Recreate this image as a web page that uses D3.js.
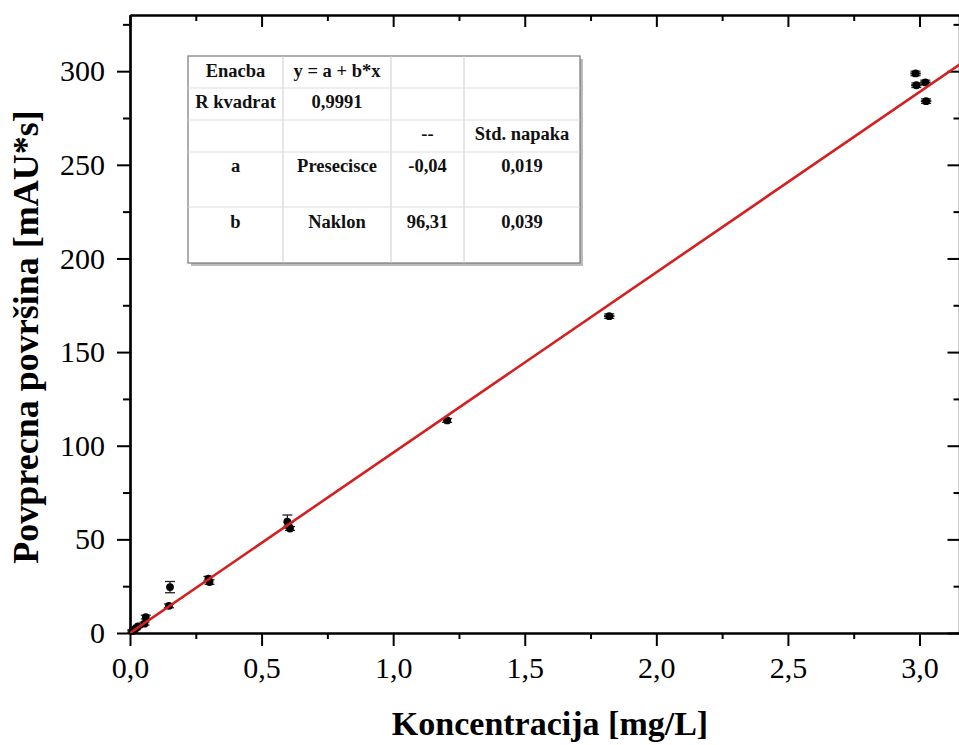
<!DOCTYPE html>
<html>
<head>
<meta charset="utf-8">
<script src="https://cdn.jsdelivr.net/npm/d3@7"></script>
<style>
  html, body { margin: 0; padding: 0; background: #fff; }
  svg { display: block; }
</style>
</head>
<body>
<svg id="chart" width="959" height="745"></svg>
<script>
// Calibration measurements: concentration vs. mean peak area
const concentration = [0.008, 0.02, 0.03, 0.055, 0.06, 0.148, 0.152, 0.298, 0.302, 0.598, 0.602, 0.608, 1.205, 1.821, 2.985, 2.988, 3.022, 3.025];
const meanArea      = [1.0,   2.2,  3.5,  5.0,   8.5,  14.5,  24.5,  29.0,  27.2,  59.5,  58.0,  55.8,  113.5, 169.2, 298.8, 292.5, 294.0, 284.0];
const areaError     = [0.6,   0.6,  0.6,  0.8,   1.0,  1.0,   3.0,   1.2,   1.2,   3.5,   1.0,   1.0,   1.0,   1.2,   1.2,   1.2,   1.2,   1.2];
const concError     = [0.004, 0.004,0.004,0.005, 0.005,0.006, 0.006, 0.008, 0.008, 0.012, 0.012, 0.012, 0.015, 0.02,  0.02,  0.02,  0.02,  0.02];

// Linear fit y = a + b*x
const intercept = -0.04;
const slope = 96.31;

const xTicks = [0, 0.5, 1.0, 1.5, 2.0, 2.5, 3.0];
const xMinorTicks = [0.25, 0.75, 1.25, 1.75, 2.25, 2.75];
const yTicks = [0, 50, 100, 150, 200, 250, 300];
const yMinorTicks = [25, 75, 125, 175, 225, 275, 325];

const tableRows = [
  ["Enacba", "y = a + b*x", "", ""],
  ["R kvadrat", "0,9991", "", ""],
  ["", "", "--", "Std. napaka"],
  ["a", "Presecisce", "-0,04", "0,019"],
  ["b", "Naklon", "96,31", "0,039"]
];

const svg = d3.select("#chart");
const plotLeft = 130, plotRight = 959.5, plotTop = 15, plotBottom = 633;

const x = d3.scaleLinear().domain([0, 3.152]).range([plotLeft, plotRight]);
const y = d3.scaleLinear().domain([0, 330]).range([plotBottom, plotTop]);

const fmtX = d => d3.format(".1f")(d).replace(".", ",");
const serif = "'Liberation Serif', 'Times New Roman', serif";

// Axes
function styleAxis(g) {
  g.selectAll("path.domain").attr("stroke", "#000").attr("stroke-width", 2.2);
  g.selectAll(".tick line").attr("stroke", "#000").attr("stroke-width", 2);
  g.selectAll(".tick text").style("font-family", serif).style("font-size", "30px").attr("fill", "#000");
}

// bottom major + minor
svg.append("g").attr("transform", `translate(0,${plotBottom})`)
  .call(d3.axisBottom(x).tickValues(xMinorTicks).tickSize(6).tickFormat("").tickSizeOuter(0))
  .call(styleAxis);
svg.append("g").attr("transform", `translate(0,${plotBottom})`)
  .call(d3.axisBottom(x).tickValues(xTicks).tickSize(13).tickPadding(11).tickFormat(fmtX).tickSizeOuter(0))
  .call(styleAxis);

// top (ticks inward)
svg.append("g").attr("transform", `translate(0,${plotTop})`)
  .call(d3.axisBottom(x).tickValues(xMinorTicks).tickSize(6).tickFormat("").tickSizeOuter(0))
  .call(styleAxis);
svg.append("g").attr("transform", `translate(0,${plotTop})`)
  .call(d3.axisBottom(x).tickValues(xTicks).tickSize(12).tickFormat("").tickSizeOuter(0))
  .call(styleAxis);

// left
svg.append("g").attr("transform", `translate(${plotLeft},0)`)
  .call(d3.axisLeft(y).tickValues(yMinorTicks).tickSize(7).tickFormat("").tickSizeOuter(0))
  .call(styleAxis);
svg.append("g").attr("transform", `translate(${plotLeft},0)`)
  .call(d3.axisLeft(y).tickValues(yTicks).tickSize(13).tickPadding(12).tickFormat(d3.format("d")).tickSizeOuter(0))
  .call(styleAxis);

// right (ticks inward)
svg.append("g").attr("transform", `translate(${plotRight},0)`)
  .call(d3.axisRight(y).tickValues(yMinorTicks).tickSize(-6).tickFormat("").tickSizeOuter(0))
  .call(styleAxis);
svg.append("g").attr("transform", `translate(${plotRight},0)`)
  .call(d3.axisRight(y).tickValues(yTicks).tickSize(-12).tickFormat("").tickSizeOuter(0))
  .call(styleAxis);

// Axis titles
svg.append("text")
  .attr("x", 550).attr("y", 735)
  .attr("text-anchor", "middle")
  .style("font-family", serif).style("font-weight", "bold").style("font-size", "34px")
  .text("Koncentracija [mg/L]");
svg.append("text")
  .attr("transform", "translate(38,337) rotate(-90)")
  .attr("text-anchor", "middle")
  .style("font-family", serif).style("font-weight", "bold").style("font-size", "36px")
  .text("Povprecna površina [mAU*s]");

// Clip to plot area
svg.append("clipPath").attr("id", "plot")
  .append("rect").attr("x", plotLeft).attr("y", plotTop).attr("width", plotRight - plotLeft).attr("height", plotBottom - plotTop);

const points = concentration.map((c, i) => ({ c, a: meanArea[i], ea: areaError[i], ec: concError[i] }));

// Error bars
const eg = svg.append("g").attr("stroke", "#222").attr("stroke-width", 1.3);
points.forEach(p => {
  eg.append("line").attr("x1", x(p.c)).attr("x2", x(p.c)).attr("y1", y(p.a - p.ea)).attr("y2", y(p.a + p.ea));
  [p.a - p.ea, p.a + p.ea].forEach(v => {
    eg.append("line").attr("x1", x(p.c) - 5).attr("x2", x(p.c) + 5).attr("y1", y(v)).attr("y2", y(v));
  });
  eg.append("line").attr("x1", x(p.c - p.ec)).attr("x2", x(p.c + p.ec)).attr("y1", y(p.a)).attr("y2", y(p.a)).attr("stroke-width", 2);
});

// Points
svg.append("g").selectAll("circle").data(points).join("circle")
  .attr("cx", d => x(d.c)).attr("cy", d => y(d.a)).attr("r", 3.9).attr("fill", "#000");

// Fit line
svg.append("line")
  .attr("clip-path", "url(#plot)")
  .attr("x1", x(0.0004)).attr("y1", y(intercept + slope * 0.0004))
  .attr("x2", x(3.152)).attr("y2", y(intercept + slope * 3.152))
  .attr("stroke", "#d42020").attr("stroke-width", 2.6);

// Parameter table
const colX = [188, 283, 391, 464, 580];
const rowY = [56, 88, 120, 152, 207, 263];
const tg = svg.append("g");
tg.append("rect").attr("x", colX[0] + 3).attr("y", rowY[0] + 3)
  .attr("width", colX[4] - colX[0]).attr("height", rowY[5] - rowY[0]).attr("fill", "#bbb");
tg.append("rect").attr("x", colX[0]).attr("y", rowY[0])
  .attr("width", colX[4] - colX[0]).attr("height", rowY[5] - rowY[0])
  .attr("fill", "#fff").attr("stroke", "#777").attr("stroke-width", 1.2);
colX.slice(1, 4).forEach(cx => tg.append("line").attr("x1", cx).attr("x2", cx)
  .attr("y1", rowY[0]).attr("y2", rowY[5]).attr("stroke", "#ccc").attr("stroke-width", 1));
rowY.slice(1, 5).forEach(ry => tg.append("line").attr("x1", colX[0]).attr("x2", colX[4])
  .attr("y1", ry).attr("y2", ry).attr("stroke", "#ddd").attr("stroke-width", 1));
const textBase = [77, 108, 140, 172, 228];
tableRows.forEach((row, r) => {
  row.forEach((t, c) => {
    if (!t) return;
    tg.append("text")
      .attr("x", (colX[c] + colX[c + 1]) / 2).attr("y", textBase[r])
      .attr("text-anchor", "middle")
      .style("font-family", serif).style("font-weight", "bold").style("font-size", "18.5px")
      .attr("fill", "#111")
      .text(t);
  });
});
</script>
</body>
</html>
